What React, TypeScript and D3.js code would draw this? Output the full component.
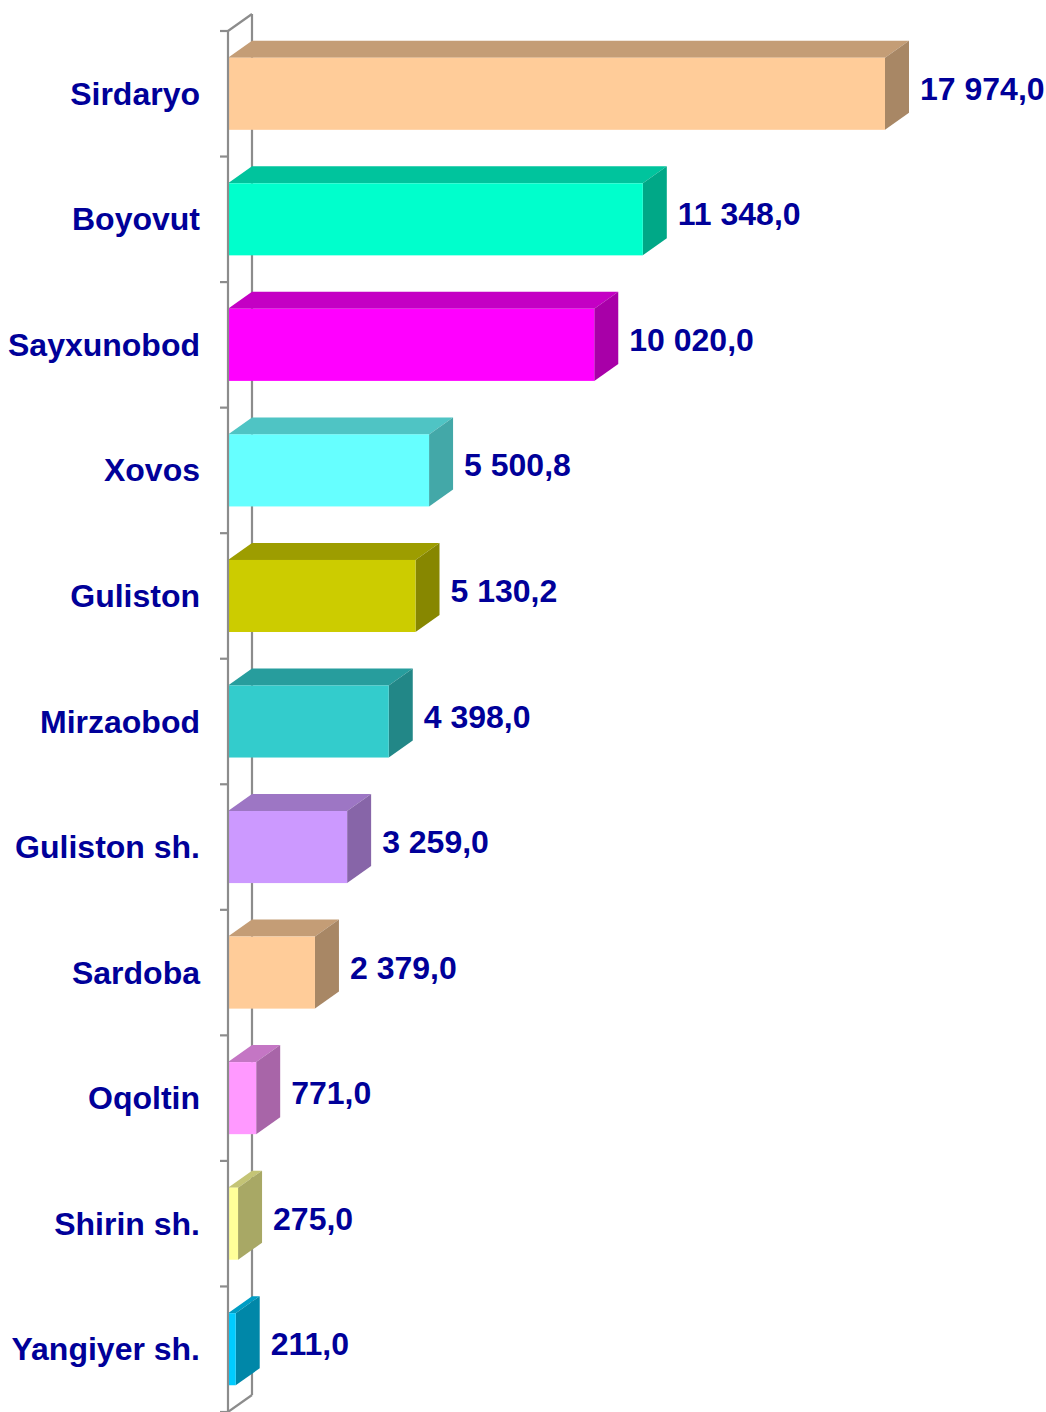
import { useMemo } from "react";
import * as d3 from "d3";

const WIDTH = 1046;
const HEIGHT = 1412;
const AXIS_X = 228;
const AXIS_TOP = 31;
const MAX_X = 885;
const DEPTH = { dx: 24, dy: -17 };

const categories = [
  "Sirdaryo",
  "Boyovut",
  "Sayxunobod",
  "Xovos",
  "Guliston",
  "Mirzaobod",
  "Guliston sh.",
  "Sardoba",
  "Oqoltin",
  "Shirin sh.",
  "Yangiyer sh.",
];
const values = [17974.0, 11348.0, 10020.0, 5500.8, 5130.2, 4398.0, 3259.0, 2379.0, 771.0, 275.0, 211.0];
const colors = [
  "#ffcc99",
  "#00ffcc",
  "#ff00ff",
  "#66ffff",
  "#cccc00",
  "#33cccc",
  "#cc99ff",
  "#ffcc99",
  "#ff99ff",
  "#ffff99",
  "#00ccff",
];

const TEXT_COLOR = "#000099";
const FONT = "'Liberation Sans', Arial, sans-serif";

const locale = d3.formatLocale({
  decimal: ",",
  thousands: " ",
  grouping: [3],
  currency: ["", ""],
});
const fmt = locale.format(",.1f");

const shade = (c: string, f: number) => {
  const rgb = d3.rgb(c);
  return d3.rgb(rgb.r * f, rgb.g * f, rgb.b * f).formatHex();
};

export default function App() {
  const xScale = useMemo(
    () => d3.scaleLinear().domain([0, d3.max(values) as number]).range([AXIS_X, MAX_X]),
    []
  );
  const yScale = useMemo(
    () =>
      d3
        .scaleBand<string>()
        .domain(categories)
        .range([AXIS_TOP, HEIGHT])
        .paddingInner(0.426)
        .paddingOuter(0.213),
    []
  );
  const step = yScale.step();
  const bw = yScale.bandwidth();

  const bars = categories.map((c, i) => {
    const x0 = xScale(0);
    const x1 = xScale(values[i]);
    const y0 = yScale(c) as number;
    const y1 = y0 + bw;
    const { dx, dy } = DEPTH;
    const front = colors[i];
    const top = shade(front, 0.77);
    const side = shade(front, 0.66);
    return (
      <g key={c}>
        <polygon
          points={`${x0},${y0} ${x0 + dx},${y0 + dy} ${x1 + dx},${y0 + dy} ${x1},${y0}`}
          fill={top}
        />
        <polygon
          points={`${x1},${y0} ${x1 + dx},${y0 + dy} ${x1 + dx},${y1 + dy} ${x1},${y1}`}
          fill={side}
        />
        <rect x={x0} y={y0} width={x1 - x0} height={bw} fill={front} />
        <text
          x={x1 + dx + 11}
          y={y0 + bw / 2 - 5}
          dominantBaseline="central"
          fontFamily={FONT}
          fontWeight="bold"
          fontSize={32}
          fill={TEXT_COLOR}
        >
          {fmt(values[i])}
        </text>
        <text
          x={200}
          y={y0 + bw / 2}
          textAnchor="end"
          dominantBaseline="central"
          fontFamily={FONT}
          fontWeight="bold"
          fontSize={32}
          fill={TEXT_COLOR}
        >
          {c}
        </text>
      </g>
    );
  });

  const ticks = d3.range(categories.length + 1).map((i) => AXIS_TOP + i * step);

  return (
    <svg
      width={WIDTH}
      height={HEIGHT}
      style={{ position: "absolute", left: 0, top: 0, background: "#fff" }}
    >
      {/* 3D wall of the category axis */}
      <g stroke="#8c8c8c" strokeWidth={2.2} fill="none">
        <line x1={AXIS_X + DEPTH.dx} y1={AXIS_TOP + DEPTH.dy} x2={AXIS_X + DEPTH.dx} y2={HEIGHT + DEPTH.dy} />
        <line x1={AXIS_X} y1={AXIS_TOP} x2={AXIS_X + DEPTH.dx} y2={AXIS_TOP + DEPTH.dy} />
        <line x1={AXIS_X} y1={HEIGHT} x2={AXIS_X + DEPTH.dx} y2={HEIGHT + DEPTH.dy} />
      </g>
      {bars}
      <g stroke="#8c8c8c" strokeWidth={2.2}>
        <line x1={AXIS_X} y1={AXIS_TOP} x2={AXIS_X} y2={HEIGHT} />
        {ticks.map((t) => (
          <line key={t} x1={AXIS_X - 8} y1={t} x2={AXIS_X} y2={t} />
        ))}
      </g>
    </svg>
  );
}
